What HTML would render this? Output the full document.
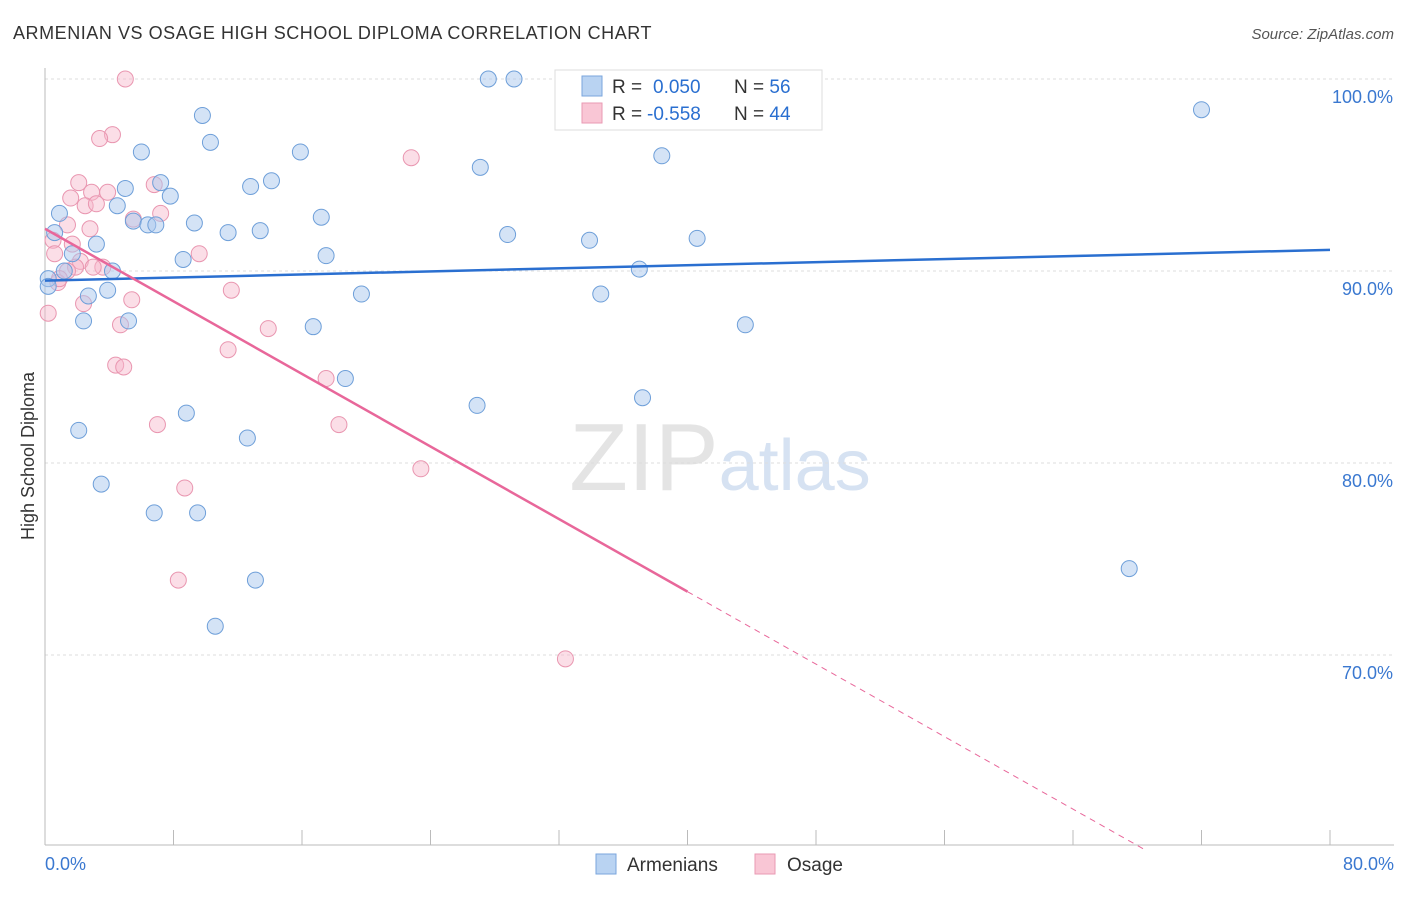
<!DOCTYPE html>
<html><head><meta charset="utf-8"><style>
body{margin:0;background:#fff;font-family:"Liberation Sans",sans-serif;}
svg text{font-family:"Liberation Sans",sans-serif;}
</style></head><body>
<svg id="chart" width="1406" height="892" viewBox="0 0 1406 892" xmlns="http://www.w3.org/2000/svg">
<text x="13" y="39" font-size="18" fill="#333" letter-spacing="0.55">ARMENIAN VS OSAGE HIGH SCHOOL DIPLOMA CORRELATION CHART</text>
<text x="1394" y="39" font-size="15" fill="#555" font-style="italic" text-anchor="end">Source: ZipAtlas.com</text>
<text x="720" y="490" font-size="96" fill="#e4e4e4" text-anchor="middle" font-family="Liberation Serif">ZIP<tspan fill="#d6e2f2" font-family="Liberation Sans" font-size="72">atlas</tspan></text>
<g id="grid"></g>
<line x1="45" y1="845" x2="1394" y2="845" stroke="#bbb"/>
<line x1="45" y1="68" x2="45" y2="845" stroke="#bbb"/>
<text transform="translate(34,456) rotate(-90)" font-size="18" fill="#333" text-anchor="middle">High School Diploma</text>
<g id="points"></g>
<g id="lines"></g>
<g>
<rect x="555" y="70" width="267" height="60" fill="#fff" stroke="#ddd"/>
<rect x="582" y="76" width="20" height="20" fill="#b9d3f2" stroke="#7aa6dc"/>
<rect x="582" y="103" width="20" height="20" fill="#f9c6d5" stroke="#e99ab3"/>
<text x="612" y="93" font-size="19" fill="#333">R = </text>
<text x="653" y="93" font-size="19" fill="#2a6fd0">0.050</text>
<text x="734" y="93" font-size="19" fill="#333">N = <tspan fill="#2a6fd0">56</tspan></text>
<text x="612" y="120" font-size="19" fill="#333">R = </text>
<text x="647" y="120" font-size="19" fill="#2a6fd0">-0.558</text>
<text x="734" y="120" font-size="19" fill="#333">N = <tspan fill="#2a6fd0">44</tspan></text>
</g>
<g>
<rect x="596" y="854" width="20" height="20" fill="#b9d3f2" stroke="#7aa6dc"/>
<text x="627" y="871" font-size="19" fill="#333">Armenians</text>
<rect x="755" y="854" width="20" height="20" fill="#f9c6d5" stroke="#e99ab3"/>
<text x="787" y="871" font-size="19" fill="#333">Osage</text>
</g>
</svg>
<script>
const yTicks=[100,90,80,70];
const xTickLabels=["0.0%","80.0%"];
const bluePts=[[27.6,100],[29.2,100],[32.7,100],[72,98.4],[9.8,98.1],[10.3,96.7],[6,96.2],[15.9,96.2],[38.4,96],[27.1,95.4],[5,94.3],[7.2,94.6],[14.1,94.7],[12.8,94.4],[4.5,93.4],[7.8,93.9],[0.9,93],[5.5,92.6],[6.4,92.4],[6.9,92.4],[9.3,92.5],[17.2,92.8],[0.6,92],[11.4,92],[13.4,92.1],[28.8,91.9],[33.9,91.6],[40.6,91.7],[3.2,91.4],[1.7,90.9],[8.6,90.6],[17.5,90.8],[4.2,90],[37,90.1],[1.2,90],[0.2,89.6],[0.2,89.2],[2.7,88.7],[3.9,89],[19.7,88.8],[34.6,88.8],[2.4,87.4],[5.2,87.4],[16.7,87.1],[43.6,87.2],[18.7,84.4],[26.9,83],[37.2,83.4],[8.8,82.6],[2.1,81.7],[12.6,81.3],[3.5,78.9],[6.8,77.4],[9.5,77.4],[13.1,73.9],[10.6,71.5],[67.5,74.5]];
const pinkPts=[[5,100],[4.2,97.1],[3.4,96.9],[2.1,94.6],[6.8,94.5],[2.9,94.1],[3.9,94.1],[1.6,93.8],[2.5,93.4],[3.2,93.5],[7.2,93],[5.5,92.7],[1.4,92.4],[2.8,92.2],[0.5,91.6],[1.7,91.4],[0.6,90.9],[2.2,90.5],[3.6,90.2],[3,90.2],[1.9,90.2],[1.4,90],[0.8,89.4],[22.8,95.9],[9.6,90.9],[11.6,89],[5.4,88.5],[2.4,88.3],[4.7,87.2],[13.9,87],[0.2,87.8],[11.4,85.9],[4.4,85.1],[4.9,85],[17.5,84.4],[7,82],[18.3,82],[23.4,79.7],[8.7,78.7],[8.3,73.9],[32.4,69.8],[0.9,89.6]];
const blueLine=[[0,89.5],[80,91.1]];
const pinkLine=[[0,92.2],[40,73.3],[68.6,59.8]];
const NS="http://www.w3.org/2000/svg";
const X=v=>45+v*(1285/80), Y=v=>79+(100-v)*19.2;
const grid=document.getElementById('grid');
yTicks.forEach(t=>{
 const l=document.createElementNS(NS,'line');
 
 
 l.setAttribute('x1',45);l.setAttribute('x2',1394);l.setAttribute('y1',Y(t));l.setAttribute('y2',Y(t));
 l.setAttribute('stroke','#ddd');l.setAttribute('stroke-dasharray','3,3');grid.appendChild(l);
 const tx=document.createElementNS(NS,'text');
 
 
 tx.setAttribute('x',1393);tx.setAttribute('y',Y(t)+24);tx.setAttribute('text-anchor','end');
 tx.setAttribute('font-size','18');tx.setAttribute('fill','#3a78d0');tx.textContent=t.toFixed(1)+'%';grid.appendChild(tx);
});
for(let i=0;i<=10;i++){
 const l=document.createElementNS(NS,'line');
 
 
 l.setAttribute('x1',X(i*8));l.setAttribute('x2',X(i*8));l.setAttribute('y1',830);l.setAttribute('y2',845);
 l.setAttribute('stroke','#bbb');grid.appendChild(l);
}
[[0,'start',45],[80,'end',1394]].forEach((d,i)=>{
 const tx=document.createElementNS(NS,'text');
 
 
 tx.setAttribute('x',d[2]);tx.setAttribute('y',870);tx.setAttribute('text-anchor',d[1]);
 tx.setAttribute('font-size','18');tx.setAttribute('fill','#3a78d0');tx.textContent=xTickLabels[i];grid.appendChild(tx);
});
const pg=document.getElementById('points');
function dots(arr,fill,stroke,name){arr.forEach(p=>{
 const c=document.createElementNS(NS,'circle');
 
 
 c.setAttribute('cx',X(p[0]));c.setAttribute('cy',Y(p[1]));c.setAttribute('r',8);
 c.setAttribute('fill',fill);c.setAttribute('stroke',stroke);c.setAttribute('stroke-width','1');pg.appendChild(c);});}
dots(pinkPts,'rgba(246,182,202,0.45)','#e996b0','osage-point');
dots(bluePts,'rgba(170,200,238,0.5)','#6e9fd9','armenian-point');
const lg=document.getElementById('lines');
function ln(a,b,col,w,dash,name){const l=document.createElementNS(NS,'line');
 
 
 l.setAttribute('x1',X(a[0]));l.setAttribute('y1',Y(a[1]));l.setAttribute('x2',X(b[0]));l.setAttribute('y2',Y(b[1]));
 l.setAttribute('stroke',col);l.setAttribute('stroke-width',w);if(dash)l.setAttribute('stroke-dasharray',dash);lg.appendChild(l);}
ln(blueLine[0],blueLine[1],'#2a6fd0',2.5,null,'armenians-trend-line');
ln(pinkLine[0],pinkLine[1],'#e8679a',2.5,null,'osage-trend-line');
ln(pinkLine[1],pinkLine[2],'#e8679a',1,'6,5','osage-trend-extension');
</script>
</body></html>
